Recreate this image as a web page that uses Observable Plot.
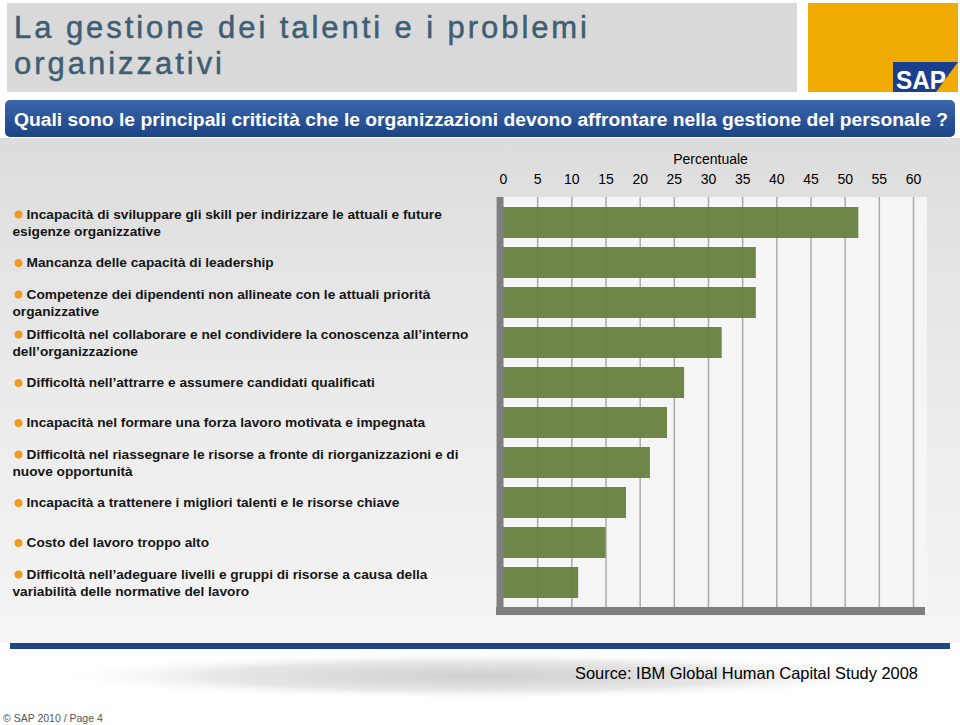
<!DOCTYPE html>
<html><head><meta charset="utf-8">
<script src="https://cdn.jsdelivr.net/npm/d3@7"></script>
<script src="https://cdn.jsdelivr.net/npm/@observablehq/plot@0.6"></script>
<style>
body{margin:0;background:#fff;}
#page{position:relative;width:960px;height:725px;overflow:hidden;font-family:"Liberation Sans",Arial,sans-serif;}
#deco{position:absolute;left:0;top:0;}
#chart{position:absolute;left:0;top:140px;}
</style></head><body>
<div id="page">
<svg id="deco" width="960" height="725" font-family="Liberation Sans, Arial, sans-serif">
 <defs>
  <linearGradient id="bg" x1="0" y1="0" x2="0" y2="1"><stop offset="0" stop-color="#dcdcdc"/><stop offset="0.5" stop-color="#ebebeb"/><stop offset="1" stop-color="#f4f4f4"/></linearGradient>
  <linearGradient id="blue" x1="0" y1="0" x2="0" y2="1"><stop offset="0" stop-color="#3a66ad"/><stop offset="1" stop-color="#1d4383"/></linearGradient>
  <radialGradient id="smudge" cx="0.5" cy="0.5" r="0.5"><stop offset="0" stop-color="#cfcfcf"/><stop offset="0.6" stop-color="#e6e6e6"/><stop offset="1" stop-color="#ffffff" stop-opacity="0"/></radialGradient>
 </defs>
 <rect x="0" y="138" width="960" height="505" fill="url(#bg)"/>
 <rect x="7" y="3" width="790" height="89" fill="#d9d9d9"/>
 <text x="14" y="38" font-size="31" fill="#3f5e74" stroke="#3f5e74" stroke-width="0.5" textLength="573" lengthAdjust="spacing">La gestione dei talenti e i problemi</text>
 <text x="14" y="74" font-size="31" fill="#3f5e74" stroke="#3f5e74" stroke-width="0.5" textLength="208" lengthAdjust="spacing">organizzativi</text>
 <rect x="808" y="3" width="150" height="89" fill="#f0ab00"/>
 <polygon points="893,62 958,62 936,92 893,92" fill="#1b3f8f"/>
 <text x="896" y="89" font-size="26" font-weight="bold" fill="#fff" textLength="50" lengthAdjust="spacingAndGlyphs">SAP</text>
 <rect x="5" y="100" width="950" height="37" rx="5" fill="url(#blue)"/>
 <text x="14" y="126" font-size="18" font-weight="bold" fill="#fff" textLength="934" lengthAdjust="spacingAndGlyphs">Quali sono le principali criticità che le organizzazioni devono affrontare nella gestione del personale ?</text>
 <rect x="10" y="643" width="940" height="6" fill="#1f4488"/>
 <ellipse cx="480" cy="676" rx="440" ry="24" fill="url(#smudge)"/>
 <text x="918" y="679" text-anchor="end" font-size="16.5" fill="#000" textLength="343" lengthAdjust="spacingAndGlyphs">Source: IBM Global Human Capital Study 2008</text>
 <text x="3" y="722" font-size="10.5" fill="#555">© SAP 2010 / Page 4</text>
</svg>
<div id="chart"></div>
</div>
<script>
const categories = [
  "Incapacità di sviluppare gli skill per indirizzare le attuali e future\nesigenze organizzative",
  "Mancanza delle capacità di leadership",
  "Competenze dei dipendenti non allineate con le attuali priorità\norganizzative",
  "Difficoltà nel collaborare e nel condividere la conoscenza all’interno\ndell’organizzazione",
  "Difficoltà nell’attrarre e assumere candidati qualificati",
  "Incapacità nel formare una forza lavoro motivata e impegnata",
  "Difficoltà nel riassegnare le risorse a fronte di riorganizzazioni e di\nnuove opportunità",
  "Incapacità a trattenere i migliori talenti e le risorse chiave",
  "Costo del lavoro troppo alto",
  "Difficoltà nell’adeguare livelli e gruppi di risorse a causa della\nvariabilità delle normative del lavoro"
];
const values = [52, 37, 37, 32, 26.5, 24, 21.5, 18, 15, 11];
const xTicks = [0, 5, 10, 15, 20, 25, 30, 35, 40, 45, 50, 55, 60];
const axisLabel = "Percentuale";

const data = categories.map((c, i) => ({label: c, value: values[i], lines: c.split("\n")}));
const one = data.filter(d => d.lines.length === 1);
const two = data.filter(d => d.lines.length === 2);

const W = 960, H = 500, mT = 57, mB = 33, mL = 503, mR = 47;
const frameH = H - mT - mB;
const [x0, x1] = d3.extent(xTicks);
const ff = '"Liberation Sans", Arial, sans-serif';
const lab = {fontFamily: ff, fontWeight: "bold", fontSize: 13.7, fill: "#151515", textAnchor: "start", x: () => x0};

const chart = Plot.plot({
  width: W, height: H,
  marginTop: mT, marginBottom: mB, marginLeft: mL, marginRight: mR,
  style: {background: "transparent", fontFamily: ff, fontSize: "14px", color: "#000", overflow: "visible"},
  x: {domain: [x0, x1]},
  y: {domain: categories, paddingInner: 0.23, paddingOuter: 0.115, insetTop: 4, insetBottom: 3, axis: null},
  marks: [
    Plot.rect([0], {x1: () => x0, x2: () => x1, fill: "#f5f5f5", insetLeft: -7, insetRight: -14, insetBottom: -8}),
    Plot.gridX(xTicks.slice(1), {stroke: "#ababab", strokeOpacity: 1, strokeWidth: 1.5}),
    Plot.barX(data, {x: "value", y: "label", fill: "#66803e", fillOpacity: 0.95}),
    Plot.ruleX([x0], {stroke: "#7f7f7f", strokeWidth: 7, dx: -3.5, insetBottom: -8}),
    Plot.rect([0], {x1: () => x0, x2: () => x1, fill: "#7f7f7f", insetLeft: -7, insetRight: -12, insetTop: frameH, insetBottom: -8}),
    Plot.axisX(xTicks, {anchor: "top", tickSize: 0, tickPadding: 14, label: null, fontSize: 14, fill: "#000"}),
    Plot.text([axisLabel], {frameAnchor: "top", dx: 2, dy: -43, text: d => d, fontSize: 14, fontFamily: ff, fill: "#000"}),
    Plot.dot(one, {x: () => x0, y: "label", dx: -485, r: 4, fill: "#f39a1e", stroke: null}),
    Plot.dot(two, {x: () => x0, y: "label", dx: -485, dy: -8.5, r: 4, fill: "#f39a1e", stroke: null}),
    Plot.text(one, {...lab, y: "label", text: d => d.lines[0], dx: -477}),
    Plot.text(two, {...lab, y: "label", text: d => d.lines[0], dx: -477, dy: -8.5}),
    Plot.text(two, {...lab, y: "label", text: d => d.lines[1], dx: -491, dy: 8.5})
  ]
});
document.getElementById("chart").appendChild(chart);
</script>
</body></html>
